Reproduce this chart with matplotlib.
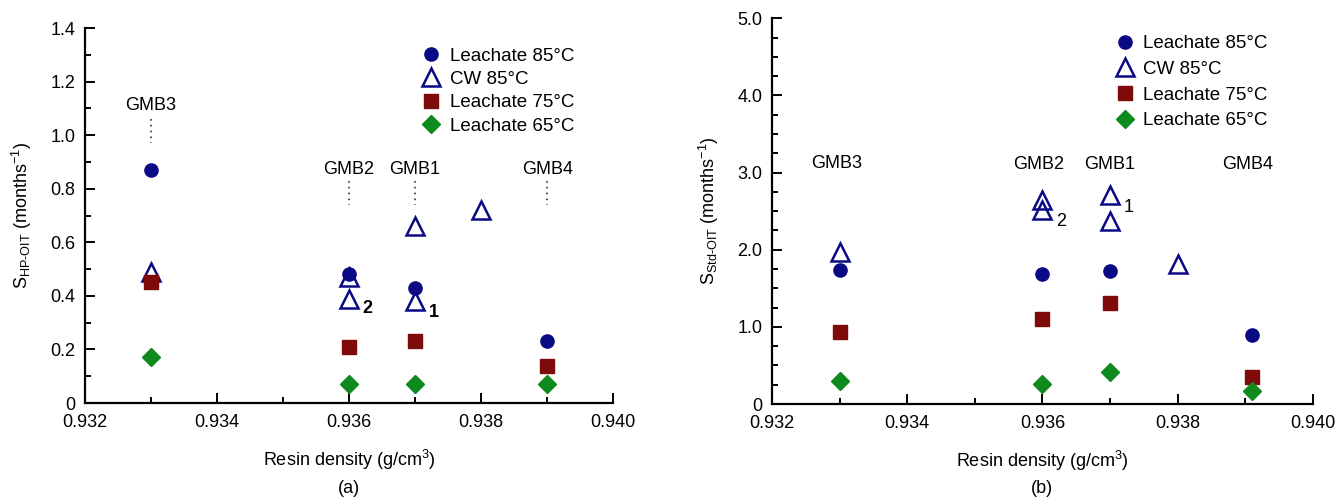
import matplotlib
matplotlib.use("Agg")
import matplotlib.pyplot as plt
from matplotlib.ticker import MultipleLocator, FuncFormatter

plt.rcParams["font.family"] = ["Liberation Sans", "DejaVu Sans"]
plt.rcParams["mathtext.fontset"] = "custom"
plt.rcParams["mathtext.rm"] = "Liberation Sans"
plt.rcParams["mathtext.it"] = "Liberation Sans:italic"

# ---- data: panel (a) S_HP-OIT ----
a_l85_x = [0.933, 0.936, 0.937, 0.939]
a_l85_y = [0.87, 0.48, 0.43, 0.23]
a_cw_x = [0.933, 0.936, 0.936, 0.937, 0.937, 0.938]
a_cw_y = [0.49, 0.47, 0.39, 0.66, 0.38, 0.72]
a_l75_x = [0.933, 0.936, 0.937, 0.939]
a_l75_y = [0.45, 0.21, 0.23, 0.14]
a_l65_x = [0.933, 0.936, 0.937, 0.939]
a_l65_y = [0.17, 0.07, 0.07, 0.07]

# ---- data: panel (b) S_Std-OIT ----
b_l85_x = [0.933, 0.936, 0.937, 0.9391]
b_l85_y = [1.74, 1.68, 1.73, 0.89]
b_cw_x = [0.933, 0.936, 0.936, 0.937, 0.937, 0.938]
b_cw_y = [1.97, 2.65, 2.51, 2.71, 2.37, 1.81]
b_l75_x = [0.933, 0.936, 0.937, 0.9391]
b_l75_y = [0.93, 1.10, 1.31, 0.35]
b_l65_x = [0.933, 0.936, 0.937, 0.9391]
b_l65_y = [0.30, 0.26, 0.41, 0.17]

gmb_names = ["GMB3", "GMB2", "GMB1", "GMB4"]
gmb_x = [0.933, 0.936, 0.937, 0.939]

labels = ["Leachate 85°C", "CW 85°C", "Leachate 75°C", "Leachate 65°C"]

BLUE = "#0a0a85"
RED = "#7f0a0a"
GREEN = "#0e8a1e"
FS = 13


def draw_points(ax, l85, cw, l75, l65):
    ax.plot(*l85, "o", color=BLUE, ms=9.5, ls="none", label=labels[0])
    ax.plot(*cw, "^", mfc="none", mec=BLUE, mew=1.8, ms=12.5, ls="none", label=labels[1])
    ax.plot(*l75, "s", color=RED, ms=9.5, ls="none", label=labels[2])
    ax.plot(*l65, "D", color=GREEN, ms=8.8, ls="none", label=labels[3])


def style_axes(ax, ymax, ymajor, yminor, yfmt):
    ax.set_xlim(0.932, 0.940)
    ax.set_ylim(0, ymax)
    ax.spines["top"].set_visible(False)
    ax.spines["right"].set_visible(False)
    ax.spines["left"].set_linewidth(1.6)
    ax.spines["bottom"].set_linewidth(1.6)
    ax.xaxis.set_major_locator(MultipleLocator(0.002))
    ax.xaxis.set_minor_locator(MultipleLocator(0.001))
    ax.xaxis.set_major_formatter(FuncFormatter(lambda v, p: f"{v:.3f}"))
    ax.yaxis.set_major_locator(MultipleLocator(ymajor))
    ax.yaxis.set_minor_locator(MultipleLocator(yminor))
    ax.yaxis.set_major_formatter(FuncFormatter(lambda v, p: "0" if abs(v) < 1e-9 else yfmt.format(v)))
    ax.tick_params(which="both", direction="in", width=1.4, labelsize=FS)
    ax.tick_params(which="major", length=7)
    ax.tick_params(which="minor", length=4)
    ax.tick_params(axis="x", pad=8)
    ax.tick_params(axis="y", pad=7)
    ax.set_xlabel("Resin density (g/cm$^3$)", fontsize=FS, labelpad=12)


fig = plt.figure(figsize=(13.37, 5.01), dpi=100)
ax1 = fig.add_axes([0.0636, 0.1956, 0.395, 0.7485])
ax2 = fig.add_axes([0.5774, 0.1936, 0.4046, 0.770])

# panel (a)
draw_points(ax1, (a_l85_x, a_l85_y), (a_cw_x, a_cw_y), (a_l75_x, a_l75_y), (a_l65_x, a_l65_y))
style_axes(ax1, 1.4, 0.2, 0.1, "{:.1f}")
ax1.set_ylabel("S$_{\\mathrm{HP\u2010OIT}}$ (months$^{-1}$)", fontsize=FS, labelpad=12)
for name, gx, ty, y0, y1 in zip(gmb_names, gmb_x, [1.11, 0.87, 0.87, 0.87],
                                [1.06, 0.83, 0.83, 0.83], [0.97, 0.74, 0.74, 0.74]):
    ax1.text(gx, ty, name, ha="center", va="center", fontsize=FS)
    ax1.plot([gx, gx], [y0, y1], ls=(0, (1, 2.5)), color="#333333", lw=1.2)
ax1.text(0.93628, 0.352, "2", fontsize=FS, fontweight="bold", ha="center", va="center")
ax1.text(0.93728, 0.338, "1", fontsize=FS, fontweight="bold", ha="center", va="center")
ax1.legend(loc="upper left", bbox_to_anchor=(0.62, 0.973), frameon=False, fontsize=13.5,
           handlelength=1.0, handletextpad=0.5, labelspacing=0.33, borderpad=0, numpoints=1)
fig.text(0.261, 0.025, "(a)", ha="center", va="center", fontsize=FS)

# panel (b)
draw_points(ax2, (b_l85_x, b_l85_y), (b_cw_x, b_cw_y), (b_l75_x, b_l75_y), (b_l65_x, b_l65_y))
style_axes(ax2, 5.0, 1.0, 0.25, "{:.1f}")
ax2.set_ylabel("S$_{\\mathrm{Std\u2010OIT}}$ (months$^{-1}$)", fontsize=FS, labelpad=12)
for name, gx in zip(gmb_names, [0.93296, 0.93595, 0.937, 0.93903]):
    ax2.text(gx, 3.12 if name == "GMB3" else 3.10, name, ha="center", va="center", fontsize=FS)
ax2.text(0.93628, 2.36, "2", fontsize=FS, ha="center", va="center")
ax2.text(0.93727, 2.55, "1", fontsize=FS, ha="center", va="center")
ax2.legend(loc="upper left", bbox_to_anchor=(0.617, 0.98), frameon=False, fontsize=13.5,
           handlelength=1.0, handletextpad=0.5, labelspacing=0.45, borderpad=0, numpoints=1)
fig.text(0.779, 0.025, "(b)", ha="center", va="center", fontsize=FS)

fig.savefig("out.png", dpi=100)
